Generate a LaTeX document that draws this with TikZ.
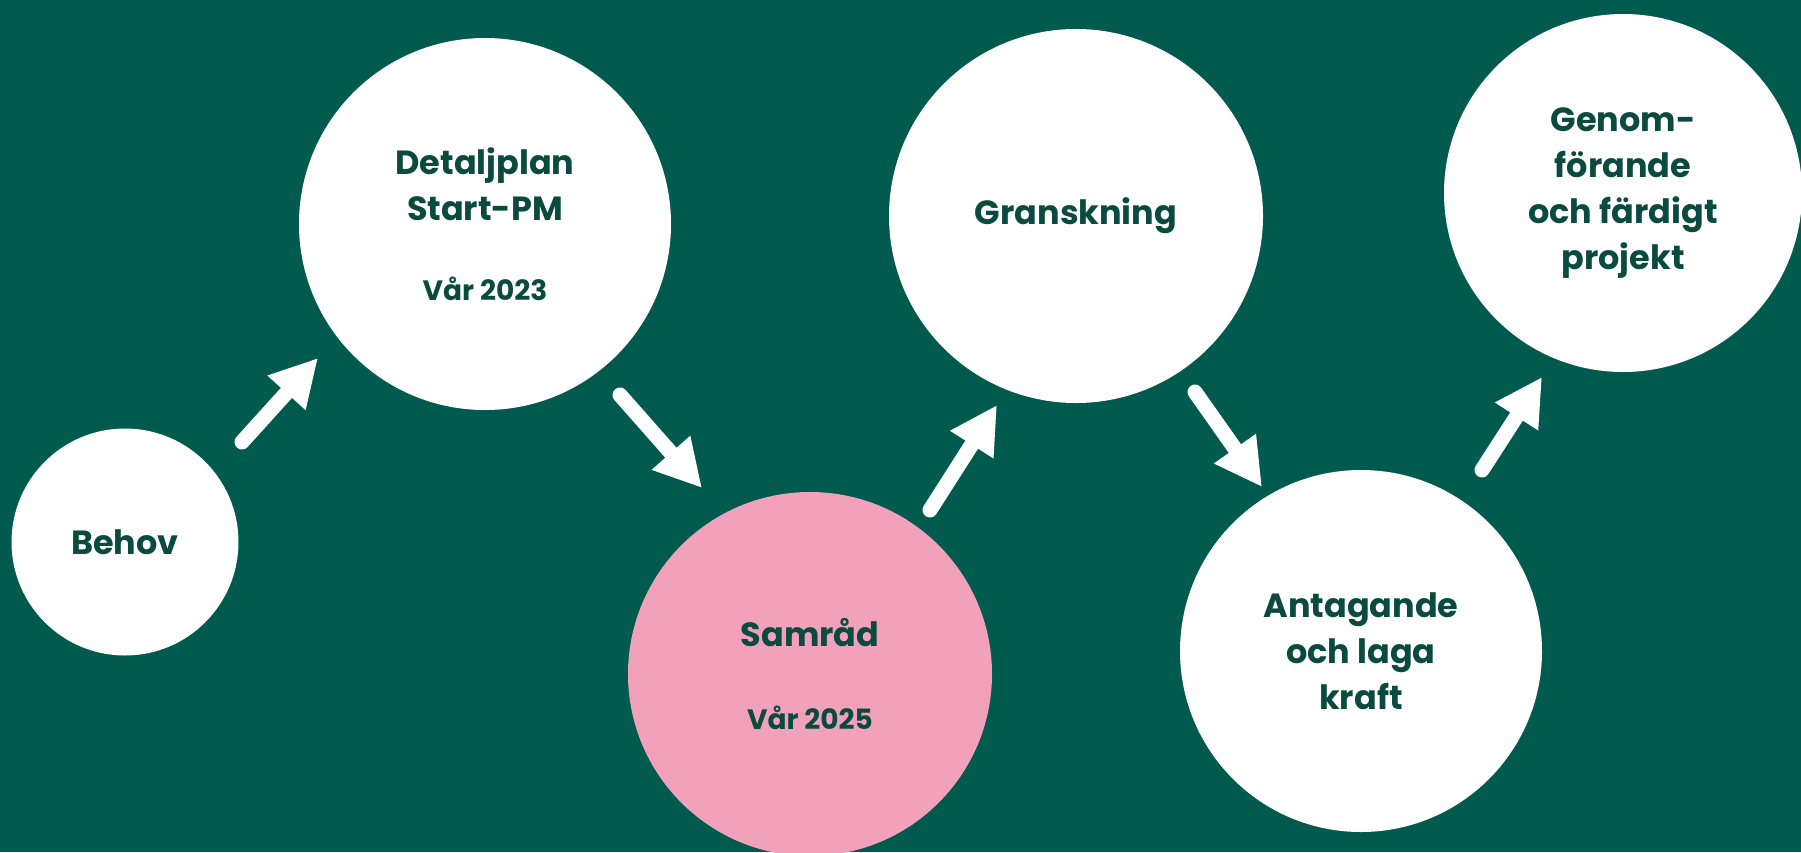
\documentclass[tikz,border=0pt]{standalone}
\usepackage{fontspec}
\setmainfont{Poppins}
\usepackage{tikz}
\usetikzlibrary{arrows.meta}
\definecolor{planbg}{HTML}{005A4E}
\definecolor{plantext}{HTML}{0B4A3F}
\definecolor{planpink}{HTML}{F2A1BB}

\begin{document}
\begin{tikzpicture}[x=1pt, y=-1pt,
    stage/.style={circle, fill=white, inner sep=0pt, align=center, text=plantext,
      font=\bfseries\fontsize{33.5}{46}\selectfont},
    arr/.style={white, line width=15pt, line cap=round, -{Triangle[length=47pt, width=48pt]}}]
  %\draw[color=white,step=50, help lines,opacity=0.3] (0,0) grid (1801,852); %help grids
  \fill[planbg] (0,0) rectangle (1801,852);
  \useasboundingbox (0,0) rectangle (1801,852);
  % stages
  \node[stage, minimum size=227pt] (behov) at (125,542) {Behov};
  \node[stage, minimum size=372pt] (detalj) at (485,224)
    {Detaljplan\\Start-PM\\[34pt]{\fontsize{28}{31}\selectfont Vår 2023}};
  \node[stage, fill=planpink, minimum size=364pt] (samrad) at (810,674)
    {Samråd\\[37pt]{\fontsize{28}{31}\selectfont Vår 2025}};
  \node[stage, minimum size=374pt] (gransk) at (1076,216) {Granskning};
  \node[stage, minimum size=362pt] (antag) at (1361,651) {Antagande\\och laga\\kraft};
  \node[stage, minimum size=358pt] (genom) at (1623,193) {Genom-\\förande\\och färdigt\\projekt};
  % arrows
  \coordinate (T1) at (242,442);  \coordinate (H1) at (318,358);
  \coordinate (T2) at (620,395);  \coordinate (H2) at (702,488);
  \coordinate (T3) at (930,510);  \coordinate (H3) at (997,405);
  \coordinate (T4) at (1195,392); \coordinate (H4) at (1262,487);
  \coordinate (T5) at (1482,470); \coordinate (H5) at (1542,377);
  \draw[arr] (T1)--(H1);
  \draw[arr] (T2)--(H2);
  \draw[arr] (T3)--(H3);
  \draw[arr] (T4)--(H4);
  \draw[arr] (T5)--(H5);
\end{tikzpicture}
\end{document}
